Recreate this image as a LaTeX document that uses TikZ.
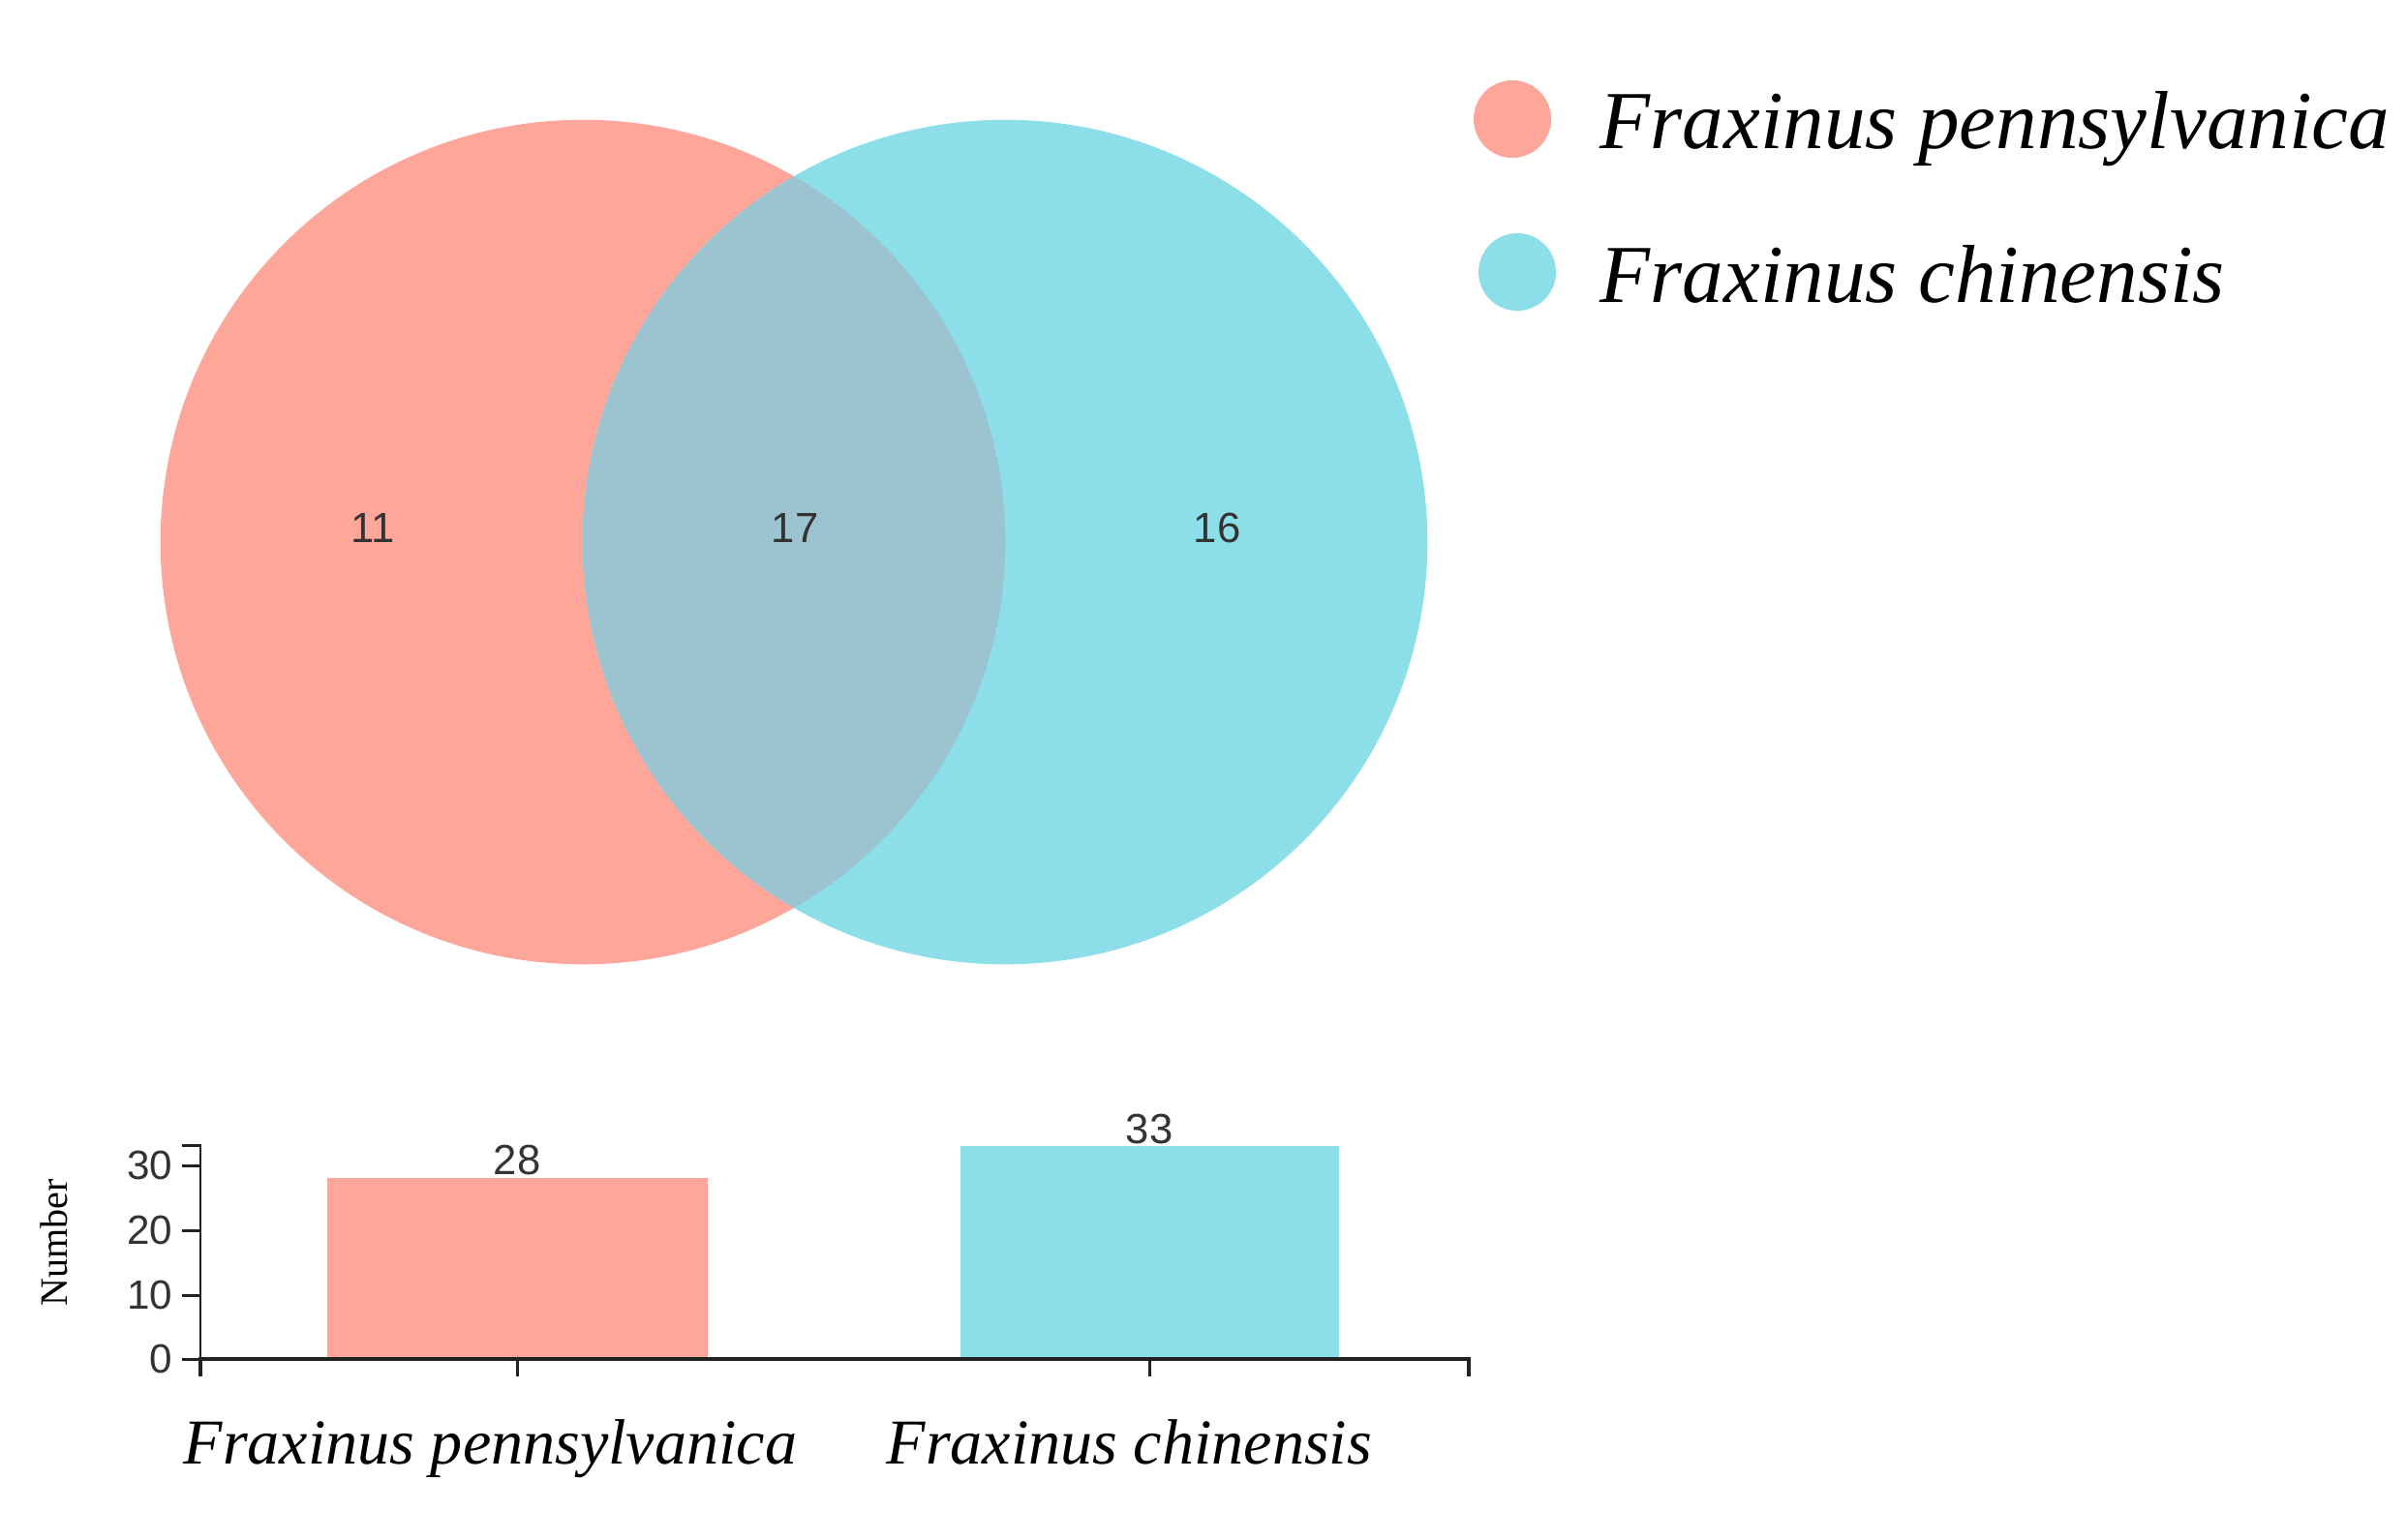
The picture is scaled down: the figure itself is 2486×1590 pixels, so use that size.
\documentclass[tikz,border=0pt]{standalone}
\usepackage{fontspec}
\setmainfont{Liberation Serif}
\newfontfamily\numfont{Liberation Sans}
\definecolor{pinkc}{HTML}{FFA69B}
\definecolor{cyanc}{HTML}{8CDFE9}
\definecolor{overc}{HTML}{9BC3D0}
\definecolor{numc}{HTML}{333333}
\definecolor{axc}{HTML}{222222}
\begin{document}
\begin{tikzpicture}[x=0.01cm,y=-0.01cm,
  vnum/.style={font=\numfont\fontsize{12.4}{14}\selectfont, text=numc, inner sep=0pt},
  ticklab/.style={font=\numfont\fontsize{12}{14}\selectfont, text=numc, inner sep=0pt, anchor=east},
  legdot/.style={circle, inner sep=0pt, minimum size=0.8cm},
  legtext/.style={font=\itshape\fontsize{24.2}{28}\selectfont, inner sep=0pt, anchor=base west},
  xlab/.style={font=\itshape\fontsize{18.8}{22}\selectfont, inner sep=0pt, anchor=base west},
  axisline/.style={line width=0.85pt, axc}]
\useasboundingbox (0,0) rectangle (2486,1590);
% Venn
\fill[pinkc] (602,560) circle[radius=4.36cm];
\fill[cyanc] (1038,560) circle[radius=4.36cm];
\begin{scope}
  \clip (602,560) circle[radius=4.36cm];
  \fill[overc] (1038,560) circle[radius=4.36cm];
\end{scope}
\node[vnum] (n11) at (385,545) {11};
\node[vnum] (n17) at (821,545) {17};
\node[vnum] (n16) at (1257,545) {16};
% legend
\node[legdot, fill=pinkc] (leg1) at (1562,123) {};
\node[legdot, fill=cyanc] (leg2) at (1567,281) {};
\node[legtext] (lt1) at (1652,153) {Fraxinus pennsylvanica};
\node[legtext] (lt2) at (1652,312) {Fraxinus chinensis};
% bars
\fill[pinkc] (338,1217) rectangle (731,1404);
\fill[cyanc] (992,1184) rectangle (1383,1404);
\node[vnum] (b28) at (534,1198) {28};
\node[vnum] (b33) at (1187,1166) {33};
% y axis
\draw[axisline] (188,1183) -- (207,1183) -- (207,1404) -- (188,1404);
\foreach \yy in {1204,1271,1338}{
  \draw[axisline] (188,\yy) -- (207,\yy);
}
\foreach \v/\yy in {30/1204,20/1271,10/1338,0/1404}{
  \node[ticklab] (t\v) at (179,\yy) {\v};
}
% x axis
\draw[line width=1.05pt, axc] (207,1422) -- (207,1404) -- (1517,1404) -- (1517,1422);
\draw[axisline] (534,1404) -- (534,1422);
\draw[axisline] (1187,1404) -- (1187,1422);
\node[font=\fontsize{11.4}{13}\selectfont, rotate=90, inner sep=0pt] (ylab) at (56,1284) {Number};
\node[xlab] (x1) at (189,1512) {Fraxinus pennsylvanica};
\node[xlab] (x2) at (915,1512) {Fraxinus chinensis};
\end{tikzpicture}
\end{document}
